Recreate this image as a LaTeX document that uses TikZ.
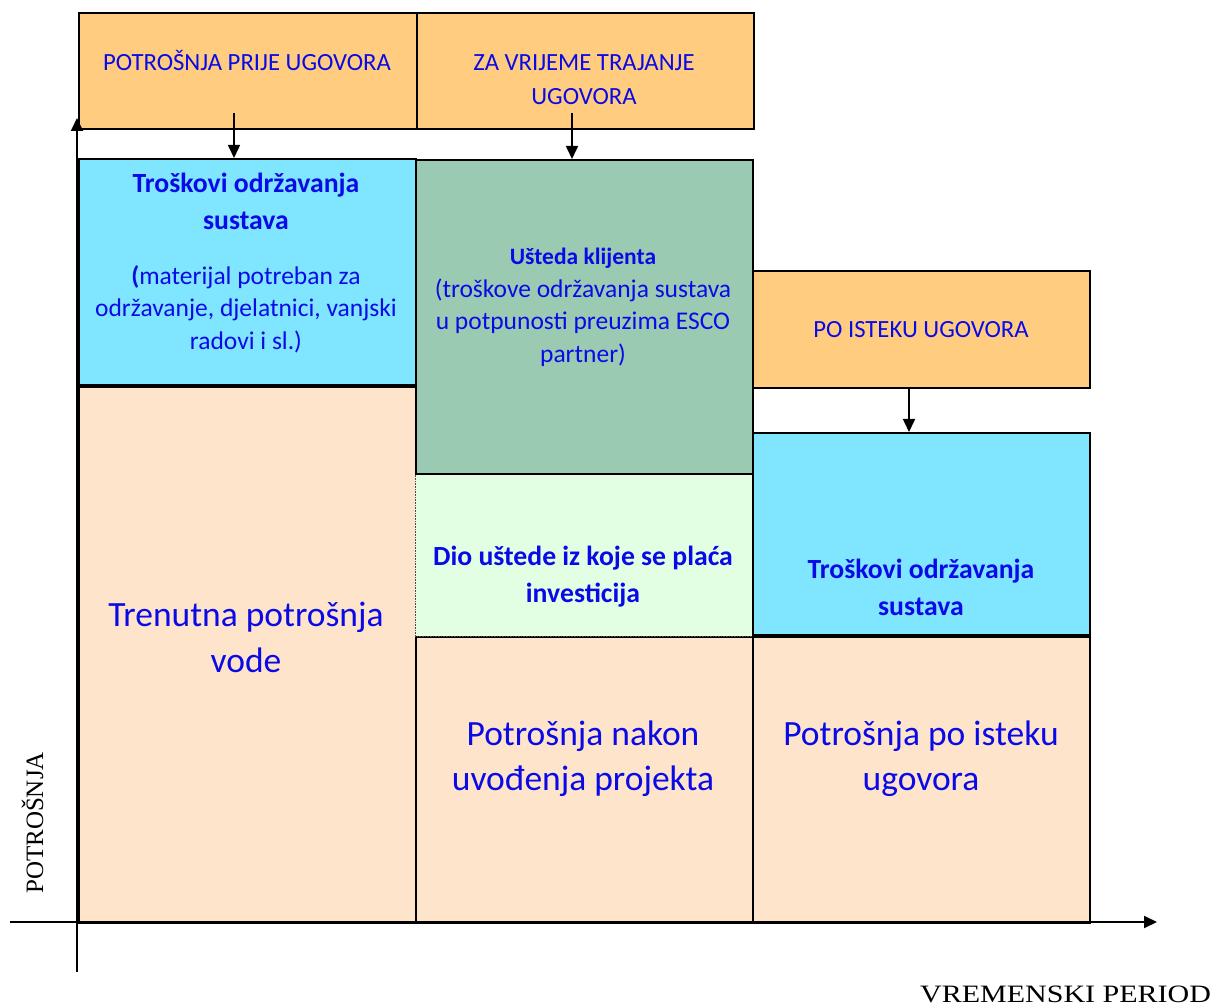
\documentclass[tikz,border=0pt]{standalone}
\usepackage{fontspec}
\setmainfont{Carlito}
\newfontfamily\tnr{Liberation Serif}
\usetikzlibrary{arrows.meta,calc}
\definecolor{orng}{RGB}{255,204,128}
\definecolor{cyanb}{RGB}{128,229,255}
\definecolor{grn}{RGB}{155,202,178}
\definecolor{lgrn}{RGB}{227,255,227}
\definecolor{peach}{RGB}{255,228,204}
\definecolor{txtb}{RGB}{10,10,230}
\begin{document}
\begin{tikzpicture}[x=1pt,y=-1pt,
  box/.style={draw=black,line width=1.6pt,inner sep=0pt,anchor=north west},
  dbox/.style={draw=black!70,line width=0.6pt,densely dotted,inner sep=0pt,anchor=north west},
  lbl/.style={text=txtb,align=center,inner sep=0pt,anchor=base},
  titletxt/.style={lbl,font=\fontsize{24.7}{34}\selectfont},
  smalltxt/.style={lbl,font=\fontsize{25.5}{33}\selectfont},
  headtxt/.style={lbl,font=\fontsize{27.7}{37}\selectfont\bfseries},
  bigtxt/.style={lbl,font=\fontsize{35.5}{45}\selectfont},
  arr/.style={line width=1.6pt,-{Triangle[length=13pt,width=12pt]}},
  axis/.style={line width=1.8pt,-{Triangle[length=13pt,width=12pt]}}]
\useasboundingbox (0,0) rectangle (1219,1008);
% boxes
\node (o1) [box,fill=orng,minimum width=338pt,minimum height=116pt] at (78,12) {};
\node (o2) [box,fill=orng,minimum width=337pt,minimum height=116pt] at (416,12) {};
\node (p1) [box,fill=peach,minimum width=337pt,minimum height=536pt] at (78,386) {};
\node (b1) [box,fill=cyanb,minimum width=337pt,minimum height=226pt] at (78,158) {};
\node (p2) [box,fill=peach,minimum width=337pt,minimum height=286pt] at (415,636) {};
\node (lg) [dbox,fill=lgrn,minimum width=337pt,minimum height=163pt] at (415,473) {};
\node (g)  [box,fill=grn,minimum width=337pt,minimum height=314pt] at (415,159) {};
\node (p3) [box,fill=peach,minimum width=337pt,minimum height=286pt] at (752,636) {};
\node (b3) [box,fill=cyanb,minimum width=337pt,minimum height=202pt] at (752,432) {};
\node (o3) [box,fill=orng,minimum width=337pt,minimum height=117pt] at (752,270) {};
% axes
\coordinate (yb) at (77,972);
\coordinate (yt) at (77,118);
\coordinate (xl) at (10,922);
\coordinate (xr) at (1157,922);
\draw[axis] (yb) -- (yt);
\draw[axis] (xl) -- (xr);
% arrows
\coordinate (a1) at (234,113);
\coordinate (a2) at (572,113);
\coordinate (a3) at (909,387);
\draw[arr] (a1) -- (a1 |- b1.north);
\draw[arr] (a2) -- (a2 |- g.north);
\draw[arr] (a3) -- (a3 |- b3.north);
% texts (base anchor = baseline of last line)
\node (t1) [titletxt] at (247,71) {POTROŠNJA PRIJE UGOVORA};
\node (t2) [titletxt] at (584,105) {ZA VRIJEME TRAJANJE\\UGOVORA};
\node (t3) [headtxt] at (246,230) {Troškovi održavanja\\sustava};
\node (t4) [smalltxt] at (246,350) {\textbf{(}materijal potreban za\\održavanje, djelatnici, vanjski\\radovi i sl.)};
\node (t5) [smalltxt] at (583,363) {{\fontsize{23.5}{33}\selectfont\bfseries Ušteda klijenta}\\(troškove održavanja sustava\\u potpunosti preuzima ESCO\\partner)};
\node (t6) [headtxt] at (583,602) {Dio uštede iz koje se plaća\\investicija};
\node (t7) [bigtxt] at (583,790) {Potrošnja nakon\\uvođenja projekta};
\node (t8) [titletxt] at (921,338) {PO ISTEKU UGOVORA};
\node (t9) [headtxt] at (921,615) {Troškovi održavanja\\sustava};
\node (t10) [bigtxt] at (921,790) {Potrošnja po isteku\\ugovora};
\node (t11) [bigtxt,font=\fontsize{35.5}{46}\selectfont] at (246,672) {Trenutna potrošnja\\vode};
\node (ya) [rotate=90,anchor=base,inner sep=0pt,font=\tnr\fontsize{25}{30}\selectfont] at (43,823) {POTROŠNJA};
\node (xa) [anchor=base west,inner sep=0pt,font=\tnr\fontsize{25}{30}\selectfont] at (920,1002) {\scalebox{1.2}[1]{VREMENSKI PERIOD}};
\end{tikzpicture}
\end{document}
